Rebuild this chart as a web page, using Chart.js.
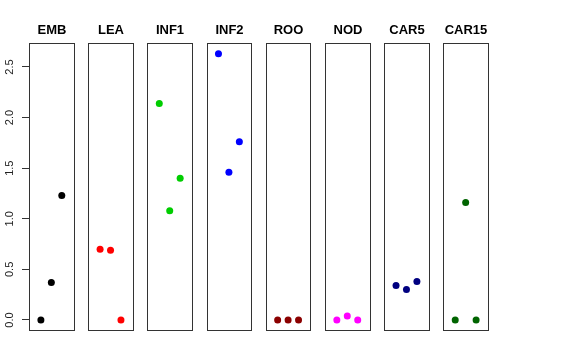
<!DOCTYPE html>
<html>
<head>
<meta charset="utf-8">
<script src="https://cdn.jsdelivr.net/npm/chart.js"></script>
<style>
  html, body { margin: 0; padding: 0; background: #fff; }
</style>
</head>
<body>
<canvas id="myChart" width="576" height="360"></canvas>
<script>
// panels (one per tissue), three replicate values each
const categories = ['EMB', 'LEA', 'INF1', 'INF2', 'ROO', 'NOD', 'CAR5', 'CAR15'];
const colours = ['#000000', '#ff0000', '#00cd00', '#0000ff', '#8b0000', '#ff00ff', '#000080', '#006400'];
const EMB = [0.0, 0.37, 1.23];
const LEA = [0.70, 0.69, 0.0];
const INF1 = [2.14, 1.08, 1.40];
const INF2 = [2.63, 1.46, 1.76];
const ROO = [0.0, 0.0, 0.0];
const NOD = [0.0, 0.04, 0.0];
const CAR5 = [0.34, 0.30, 0.38];
const CAR15 = [0.0, 1.16, 0.0];
const series = [EMB, LEA, INF1, INF2, ROO, NOD, CAR5, CAR15];
const yTicks = [0, 0.5, 1, 1.5, 2, 2.5];

// each panel uses local x from PANEL_LO to PANEL_HI, panels placed PITCH apart
const PANEL_LO = -0.14, PANEL_HI = 4.14, PITCH = 5.67;

const datasets = series.map((vals, i) => ({
    label: categories[i],
    data: vals.map((v, j) => ({ x: i * PITCH + j + 1, y: v })),
    backgroundColor: colours[i],
    borderColor: colours[i],
    pointRadius: 3.5,
    pointBorderWidth: 0,
    showLine: false
}));

const panelPlugin = {
    id: 'panels',
    afterDatasetsDraw(chart) {
        const ctx = chart.ctx;
        const xs = chart.scales.x;
        const area = chart.chartArea;
        ctx.save();
        ctx.strokeStyle = '#333';
        ctx.lineWidth = 1;
        ctx.fillStyle = '#000';
        ctx.font = 'bold 13px "Liberation Sans", Arial, sans-serif';
        ctx.textAlign = 'center';
        ctx.textBaseline = 'middle';
        categories.forEach((name, i) => {
            const l = Math.round(xs.getPixelForValue(i * PITCH + PANEL_LO)) + 0.5;
            const r = Math.round(xs.getPixelForValue(i * PITCH + PANEL_HI)) + 0.5;
            const t = Math.round(area.top) + 0.5;
            const b = Math.round(area.bottom) + 0.5;
            ctx.strokeRect(l, t, r - l, b - t);
            ctx.fillText(name, (l + r) / 2, t - 13);
        });
        ctx.restore();
    }
};

new Chart(document.getElementById('myChart'), {
    type: 'scatter',
    data: { datasets: datasets },
    options: {
        responsive: false,
        animation: false,
        layout: { padding: { left: 0, right: 88, top: 43, bottom: 30 } },
        plugins: { legend: { display: false }, tooltip: { enabled: false } },
        scales: {
            x: {
                type: 'linear',
                display: false,
                min: PANEL_LO,
                max: 7 * PITCH + PANEL_HI
            },
            y: {
                min: -0.099,
                max: 2.737,
                afterFit(s) { s.width = 29; },
                afterBuildTicks(s) { s.ticks = yTicks.map(v => ({ value: v })); },
                border: { display: false },
                grid: { drawOnChartArea: false, drawTicks: true, tickLength: 7, color: '#333' },
                ticks: {
                    minRotation: 90,
                    maxRotation: 90,
                    crossAlign: 'center',
                    padding: 4,
                    color: '#222',
                    font: { family: '"Liberation Sans", Arial, sans-serif', size: 11 },
                    callback: v => v.toFixed(1)
                }
            }
        }
    },
    plugins: [panelPlugin]
});
</script>
</body>
</html>
